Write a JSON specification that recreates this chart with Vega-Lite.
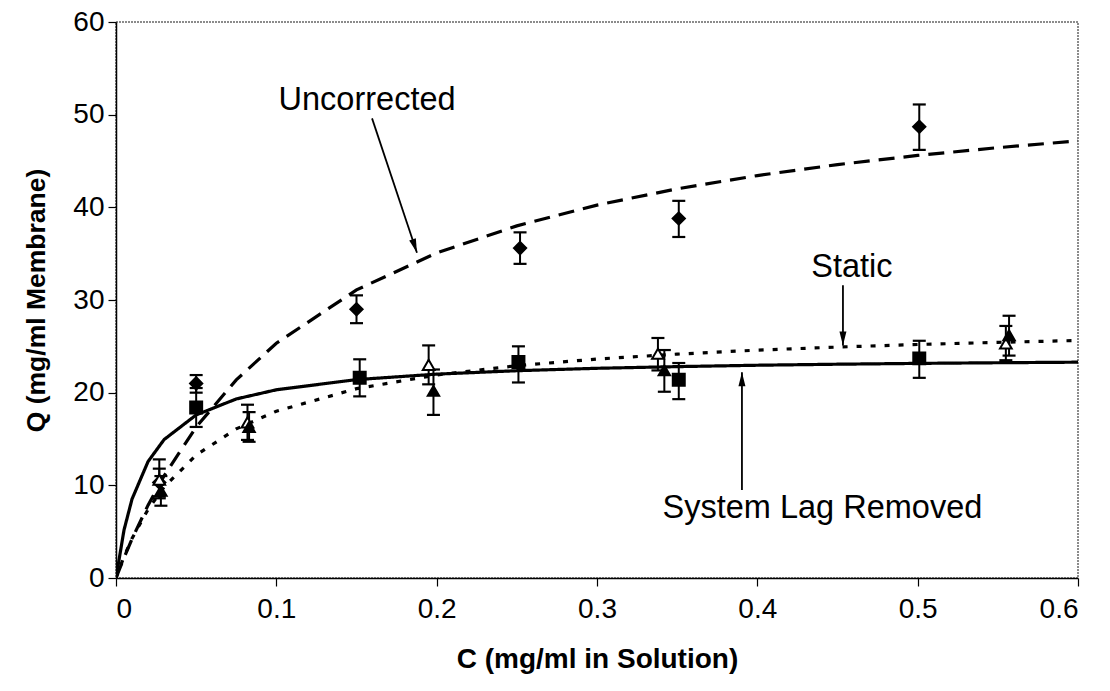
{
  "$schema": "https://vega.github.io/schema/vega-lite/v6.json",
  "autosize": {"type": "none"},
  "padding": {"left": 116, "top": 22, "right": 32, "bottom": 113},
  "width": 962,
  "height": 556,
  "background": "white",
  "config": {
    "font": "Liberation Sans",
    "view": {"stroke": "#666", "strokeDash": [2, 1], "strokeWidth": 1.5},
    "axis": {
      "grid": false,
      "domainColor": "black",
      "domainWidth": 1.5,
      "tickColor": "black",
      "tickWidth": 1.2,
      "tickSize": 8,
      "labelFont": "Liberation Sans",
      "labelFontSize": 28,
      "labelColor": "black",
      "titleFont": "Liberation Sans",
      "titleFontSize": 28,
      "titleFontWeight": "bold",
      "titleColor": "black"
    }
  },
  "datasets": {
    "curves": [
      {"series": "Uncorrected", "C": 0, "Q": 0},
      {"series": "Uncorrected", "C": 0.005, "Q": 2.19},
      {"series": "Uncorrected", "C": 0.01, "Q": 4.22},
      {"series": "Uncorrected", "C": 0.02, "Q": 7.86},
      {"series": "Uncorrected", "C": 0.03, "Q": 11.03},
      {"series": "Uncorrected", "C": 0.05, "Q": 16.29},
      {"series": "Uncorrected", "C": 0.075, "Q": 21.38},
      {"series": "Uncorrected", "C": 0.1, "Q": 25.33},
      {"series": "Uncorrected", "C": 0.15, "Q": 31.09},
      {"series": "Uncorrected", "C": 0.2, "Q": 35.08},
      {"series": "Uncorrected", "C": 0.25, "Q": 38.0},
      {"series": "Uncorrected", "C": 0.3, "Q": 40.24},
      {"series": "Uncorrected", "C": 0.35, "Q": 42.0},
      {"series": "Uncorrected", "C": 0.4, "Q": 43.43},
      {"series": "Uncorrected", "C": 0.45, "Q": 44.61},
      {"series": "Uncorrected", "C": 0.5, "Q": 45.6},
      {"series": "Uncorrected", "C": 0.55, "Q": 46.44},
      {"series": "Uncorrected", "C": 0.6, "Q": 47.17},
      {"series": "Static", "C": 0, "Q": 0},
      {"series": "Static", "C": 0.005, "Q": 2.31},
      {"series": "Static", "C": 0.01, "Q": 4.27},
      {"series": "Static", "C": 0.02, "Q": 7.41},
      {"series": "Static", "C": 0.03, "Q": 9.82},
      {"series": "Static", "C": 0.05, "Q": 13.26},
      {"series": "Static", "C": 0.075, "Q": 16.09},
      {"series": "Static", "C": 0.1, "Q": 18.0},
      {"series": "Static", "C": 0.15, "Q": 20.43},
      {"series": "Static", "C": 0.2, "Q": 21.91},
      {"series": "Static", "C": 0.25, "Q": 22.91},
      {"series": "Static", "C": 0.3, "Q": 23.63},
      {"series": "Static", "C": 0.35, "Q": 24.16},
      {"series": "Static", "C": 0.4, "Q": 24.59},
      {"series": "Static", "C": 0.45, "Q": 24.92},
      {"series": "Static", "C": 0.5, "Q": 25.2},
      {"series": "Static", "C": 0.55, "Q": 25.43},
      {"series": "Static", "C": 0.6, "Q": 25.63},
      {"series": "System Lag Removed", "C": 0, "Q": 0},
      {"series": "System Lag Removed", "C": 0.005, "Q": 5.18},
      {"series": "System Lag Removed", "C": 0.01, "Q": 8.52},
      {"series": "System Lag Removed", "C": 0.02, "Q": 12.57},
      {"series": "System Lag Removed", "C": 0.03, "Q": 14.94},
      {"series": "System Lag Removed", "C": 0.05, "Q": 17.6},
      {"series": "System Lag Removed", "C": 0.075, "Q": 19.32},
      {"series": "System Lag Removed", "C": 0.1, "Q": 20.31},
      {"series": "System Lag Removed", "C": 0.15, "Q": 21.41},
      {"series": "System Lag Removed", "C": 0.2, "Q": 22.0},
      {"series": "System Lag Removed", "C": 0.25, "Q": 22.37},
      {"series": "System Lag Removed", "C": 0.3, "Q": 22.63},
      {"series": "System Lag Removed", "C": 0.35, "Q": 22.81},
      {"series": "System Lag Removed", "C": 0.4, "Q": 22.96},
      {"series": "System Lag Removed", "C": 0.45, "Q": 23.07},
      {"series": "System Lag Removed", "C": 0.5, "Q": 23.16},
      {"series": "System Lag Removed", "C": 0.55, "Q": 23.23},
      {"series": "System Lag Removed", "C": 0.6, "Q": 23.29}
    ],
    "points": [
      {"set": "Uncorrected", "C": 0.027, "Q": 10.3, "lo": 8.8, "hi": 11.8},
      {"set": "Uncorrected", "C": 0.05, "Q": 21.0, "lo": 20.0, "hi": 21.9},
      {"set": "Uncorrected", "C": 0.15, "Q": 29.0, "lo": 27.5, "hi": 30.5},
      {"set": "Uncorrected", "C": 0.252, "Q": 35.6, "lo": 33.9, "hi": 37.3},
      {"set": "Uncorrected", "C": 0.351, "Q": 38.8, "lo": 36.8, "hi": 40.7},
      {"set": "Uncorrected", "C": 0.501, "Q": 48.7, "lo": 46.2, "hi": 51.1},
      {"set": "System Lag Removed", "C": 0.05, "Q": 18.4, "lo": 16.3, "hi": 20.5},
      {"set": "System Lag Removed", "C": 0.152, "Q": 21.6, "lo": 19.6, "hi": 23.6},
      {"set": "System Lag Removed", "C": 0.251, "Q": 23.3, "lo": 21.1, "hi": 25.0},
      {"set": "System Lag Removed", "C": 0.351, "Q": 21.4, "lo": 19.3, "hi": 23.2},
      {"set": "System Lag Removed", "C": 0.501, "Q": 23.7, "lo": 21.6, "hi": 25.6},
      {"set": "Static A", "C": 0.027, "Q": 10.6, "lo": 8.6, "hi": 12.8},
      {"set": "Static A", "C": 0.082, "Q": 16.8, "lo": 14.9, "hi": 18.7},
      {"set": "Static A", "C": 0.195, "Q": 23.0, "lo": 20.9, "hi": 25.1},
      {"set": "Static A", "C": 0.338, "Q": 24.2, "lo": 22.4, "hi": 25.9},
      {"set": "Static A", "C": 0.555, "Q": 25.3, "lo": 23.5, "hi": 27.2},
      {"set": "Static B", "C": 0.028, "Q": 9.4, "lo": 7.8, "hi": 11.0},
      {"set": "Static B", "C": 0.083, "Q": 16.3, "lo": 14.7, "hi": 17.9},
      {"set": "Static B", "C": 0.198, "Q": 20.2, "lo": 17.6, "hi": 22.5},
      {"set": "Static B", "C": 0.342, "Q": 22.4, "lo": 20.1, "hi": 24.6},
      {"set": "Static B", "C": 0.557, "Q": 26.2, "lo": 24.0, "hi": 28.3}
    ],
    "notes": [
      {"label": "Uncorrected", "tx": 0.1566, "ty": 50.5, "x1": 0.1597, "y1": 49.6, "x2": 0.1877, "y2": 35.1},
      {"label": "Static", "tx": 0.459, "ty": 32.5, "x1": 0.4534, "y1": 31.6, "x2": 0.4534, "y2": 25.1},
      {"label": "System Lag Removed", "tx": 0.4406, "ty": 6.47, "x1": 0.3904, "y1": 9.5, "x2": 0.3904, "y2": 22.2}
    ]
  },
  "encoding": {
    "x": {
      "type": "quantitative",
      "scale": {"domain": [0, 0.6], "nice": false},
      "axis": {"values": [0, 0.1, 0.2, 0.3, 0.4, 0.5, 0.6], "format": "~g", "labelPadding": 9, "title": "C (mg/ml in Solution)", "titlePadding": 22}
    },
    "y": {
      "type": "quantitative",
      "scale": {"domain": [0, 60], "nice": false},
      "axis": {"values": [0, 10, 20, 30, 40, 50, 60], "labelPadding": 4, "title": "Q (mg/ml Membrane)", "titleFontSize": 26.5, "titlePadding": 22}
    }
  },
  "layer": [
    {
      "data": {"name": "curves"},
      "mark": {"type": "line", "color": "black", "strokeWidth": 3.2, "clip": true},
      "encoding": {
        "x": {"field": "C"},
        "y": {"field": "Q"},
        "detail": {"field": "series"},
        "strokeDash": {
          "field": "series",
          "type": "nominal",
          "scale": {"domain": ["Uncorrected", "Static", "System Lag Removed"], "range": [[16, 9], [5, 9], [1, 0]]},
          "legend": null
        }
      }
    },
    {
      "data": {"name": "points"},
      "mark": {"type": "rule", "color": "black", "strokeWidth": 2, "opacity": 1},
      "encoding": {"x": {"field": "C"}, "y": {"field": "lo"}, "y2": {"field": "hi"}}
    },
    {
      "data": {"name": "points"},
      "mark": {"type": "tick", "orient": "horizontal", "color": "black", "size": 13, "thickness": 2.2, "opacity": 1},
      "encoding": {"x": {"field": "C"}, "y": {"field": "lo"}}
    },
    {
      "data": {"name": "points"},
      "mark": {"type": "tick", "orient": "horizontal", "color": "black", "size": 13, "thickness": 2.2, "opacity": 1},
      "encoding": {"x": {"field": "C"}, "y": {"field": "hi"}}
    },
    {
      "data": {"name": "points"},
      "mark": {"type": "point", "filled": false, "stroke": "black", "strokeWidth": 2, "opacity": 1},
      "encoding": {
        "x": {"field": "C"},
        "y": {"field": "Q"},
        "shape": {
          "field": "set",
          "type": "nominal",
          "scale": {"domain": ["Uncorrected", "System Lag Removed", "Static A", "Static B"], "range": ["diamond", "square", "triangle-up", "triangle-up"]},
          "legend": null
        },
        "fill": {
          "field": "set",
          "type": "nominal",
          "scale": {"domain": ["Uncorrected", "System Lag Removed", "Static A", "Static B"], "range": ["black", "black", "white", "black"]},
          "legend": null
        },
        "size": {
          "field": "set",
          "type": "nominal",
          "scale": {"domain": ["Uncorrected", "System Lag Removed", "Static A", "Static B"], "range": [150, 130, 190, 150]},
          "legend": null
        }
      }
    },
    {
      "data": {"name": "notes"},
      "mark": {"type": "rule", "color": "black", "strokeWidth": 1.8},
      "encoding": {"x": {"field": "x1"}, "y": {"field": "y1"}, "x2": {"field": "x2"}, "y2": {"field": "y2"}}
    },
    {
      "data": {"name": "notes"},
      "transform": [{"filter": "datum.label === 'Uncorrected'"}],
      "mark": {"type": "point", "shape": "M-0.5,-2L0.5,-2L0,0Z", "filled": true, "color": "black", "size": 196, "angle": -18.4, "opacity": 1},
      "encoding": {"x": {"field": "x2"}, "y": {"field": "y2"}}
    },
    {
      "data": {"name": "notes"},
      "transform": [{"filter": "datum.label === 'Static'"}],
      "mark": {"type": "point", "shape": "M-0.5,-2L0.5,-2L0,0Z", "filled": true, "color": "black", "size": 196, "opacity": 1},
      "encoding": {"x": {"field": "x2"}, "y": {"field": "y2"}}
    },
    {
      "data": {"name": "notes"},
      "transform": [{"filter": "datum.label === 'System Lag Removed'"}],
      "mark": {"type": "point", "shape": "M-0.5,2L0.5,2L0,0Z", "filled": true, "color": "black", "size": 196, "opacity": 1},
      "encoding": {"x": {"field": "x2"}, "y": {"field": "y2"}}
    },
    {
      "data": {"name": "notes"},
      "mark": {"type": "text", "font": "Liberation Sans", "fontSize": 32.5, "color": "black", "align": "center", "baseline": "alphabetic"},
      "encoding": {"x": {"field": "tx"}, "y": {"field": "ty"}, "text": {"field": "label"}}
    }
  ]
}
